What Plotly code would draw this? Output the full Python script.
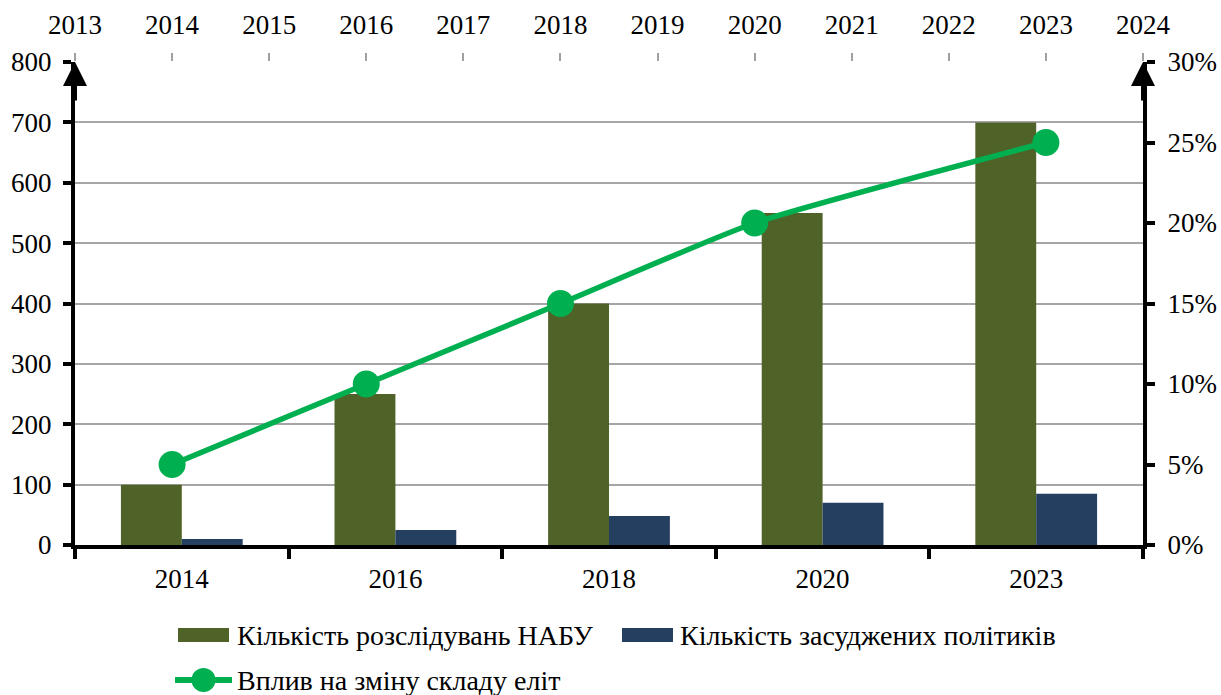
import plotly.graph_objects as go

# Data
categories = ["2014", "2016", "2018", "2020", "2023"]
investigations = [100, 250, 400, 550, 700]
convicted = [10, 25, 48, 70, 85]
line_years = [2014, 2016, 2018, 2020, 2023]
elite_impact = [0.05, 0.10, 0.15, 0.20, 0.25]
series_names = [
    "Кількість розслідувань НАБУ",
    "Кількість засуджених політиків",
    "Вплив на зміну складу еліт",
]

FONT = "Liberation Serif"
OLIVE = "#4F6228"
NAVY = "#243F60"
GREEN = "#00B050"
TICKFONT = dict(family=FONT, size=27, color="black")

W, H = 1221, 695
ML, MR, MT, MB = 75, 78, 62, 150
PW, PH = W - ML - MR, H - MT - MB


def px(x):
    return (x - ML) / PW


def py(y):
    return (H - MB - y) / PH


fig = go.Figure()

fig.add_trace(go.Bar(
    x=categories, y=investigations, name=series_names[0],
    marker=dict(color=OLIVE, line=dict(width=0)), xaxis="x", yaxis="y",
))
fig.add_trace(go.Bar(
    x=categories, y=convicted, name=series_names[1],
    marker=dict(color=NAVY, line=dict(width=0)), xaxis="x", yaxis="y",
))
fig.add_trace(go.Scatter(
    x=line_years, y=elite_impact, name=series_names[2],
    mode="lines+markers", line=dict(color=GREEN, width=5.5, shape="spline", smoothing=0.5),
    marker=dict(color=GREEN, size=27), xaxis="x2", yaxis="y2",
))

fig.update_layout(
    width=W, height=H,
    margin=dict(l=ML, r=MR, t=MT, b=MB),
    paper_bgcolor="white", plot_bgcolor="white",
    font=dict(family=FONT, size=27, color="black"),
    barmode="group", bargap=0.43, bargroupgap=0,
    showlegend=False,
    xaxis=dict(
        type="category", showline=True, linecolor="black", linewidth=4,
        ticks="outside", tickson="boundaries", ticklen=10, tickwidth=4, tickcolor="black",
        showgrid=False, ticklabelstandoff=7, automargin=False, tickfont=TICKFONT,
    ),
    xaxis2=dict(
        overlaying="x", side="top", range=[2013, 2024], dtick=1, tick0=2013,
        ticks="outside", ticklen=8, tickwidth=2, tickcolor="#a0a0a0",
        showgrid=False, showline=False, zeroline=False,
        ticklabelstandoff=8, automargin=False, tickfont=TICKFONT,
    ),
    yaxis=dict(
        range=[0, 800], dtick=100, showgrid=True, gridcolor="#a6a6a6", gridwidth=2,
        showline=True, linecolor="black", linewidth=4, zeroline=False,
        ticks="outside", ticklen=8, tickwidth=4, tickcolor="black",
        ticklabelstandoff=6, automargin=False, tickfont=TICKFONT,
    ),
    yaxis2=dict(
        overlaying="y", side="right", range=[0, 0.30], dtick=0.05, tickformat=".0%",
        showgrid=False, showline=True, linecolor="black", linewidth=4, zeroline=False,
        ticks="outside", ticklen=8, tickwidth=4, tickcolor="black",
        ticklabelstandoff=7, automargin=False, tickfont=TICKFONT,
    ),
)

# Arrowheads on top of both vertical axes
for xp in (0, 1):
    fig.add_annotation(
        x=xp, y=1.0, xref="paper", yref="paper", ax=0, ay=40,
        showarrow=True, arrowhead=2, arrowsize=1.2, arrowwidth=4, arrowcolor="black", text="",
    )

# Legend drawn below the plot: swatches + labels
legend_items = [
    # (kind, colour, swatch x0, swatch x1, row centre y, text x)
    ("bar", OLIVE, 178, 229, 635, 235),
    ("bar", NAVY, 622, 673, 635, 678),
    ("line", GREEN, 175, 232, 680, 235),
]
for name, (kind, colour, x0, x1, yc, tx) in zip(series_names, legend_items):
    if kind == "bar":
        fig.add_shape(type="rect", xref="paper", yref="paper",
                      x0=px(x0), x1=px(x1), y0=py(yc + 7), y1=py(yc - 7),
                      fillcolor=colour, line=dict(width=0), layer="above")
    else:
        fig.add_shape(type="line", xref="paper", yref="paper",
                      x0=px(x0), x1=px(x1), y0=py(yc), y1=py(yc),
                      line=dict(color=colour, width=6), layer="above")
        r = 12
        cx = (x0 + x1) / 2
        fig.add_shape(type="circle", xref="paper", yref="paper",
                      x0=px(cx - r), x1=px(cx + r), y0=py(yc + r), y1=py(yc - r),
                      fillcolor=colour, line=dict(width=0), layer="above")
    fig.add_annotation(
        x=px(tx), y=py(yc), xref="paper", yref="paper", text=name,
        showarrow=False, xanchor="left", yanchor="middle",
        font=dict(family=FONT, size=28, color="black"),
    )

fig.write_html("out.html")
